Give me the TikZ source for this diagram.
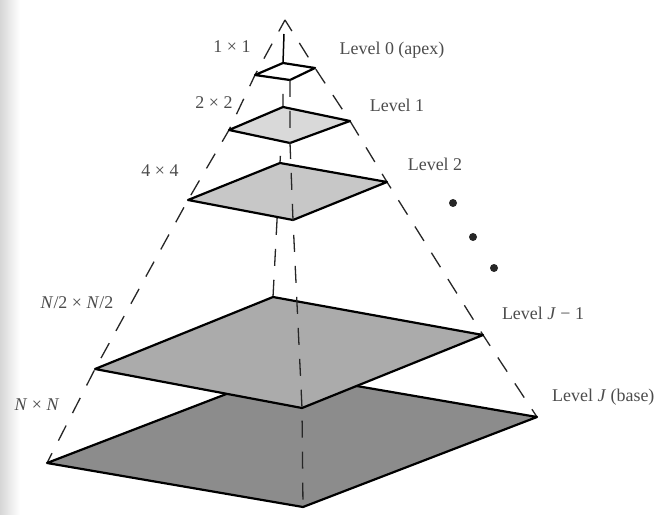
\documentclass[tikz,border=0pt]{standalone}
\usepackage{fontspec}
\setmainfont{Liberation Serif}
\begin{document}
\begin{tikzpicture}[x=1bp,y=-1bp,
  lbl/.style={text=black!70,font=\fontsize{18}{20}\selectfont,inner sep=0pt},
  edge/.style={line width=1.3bp,dash pattern=on 17bp off 14bp,black!85},
  level/.style={draw=black,line width=2.2bp,line join=round},
  dotmark/.style={circle,fill=black!85,inner sep=0pt,minimum size=8bp}]
\useasboundingbox (0,0) rectangle (659,515);
\fill[white] (0,0) rectangle (659,515);
\shade[left color=black!16,right color=white] (0,0) rectangle (20,515);
% vertices
\coordinate (apex) at (285,20);
\coordinate (top) at (284,34);
\coordinate (l0l) at (255,75);  \coordinate (l0t) at (283,63);  \coordinate (l0r) at (315,68);  \coordinate (l0b) at (290,80);
\coordinate (l1l) at (229,130); \coordinate (l1t) at (283,107); \coordinate (l1r) at (350,121); \coordinate (l1b) at (290,143);
\coordinate (l2l) at (188,200); \coordinate (l2t) at (280,163); \coordinate (l2r) at (387,182); \coordinate (l2b) at (293,220);
\coordinate (l3l) at (95,369);  \coordinate (l3t) at (273,297); \coordinate (l3r) at (483,335); \coordinate (l3b) at (302,408);
\coordinate (l4l) at (47,463);  \coordinate (l4t) at (281,373); \coordinate (l4r) at (537,417); \coordinate (l4b) at (303,507);
% hidden/side edges
\draw[edge,dash phase=4bp] (apex) -- (l0l) -- (l1l) -- (l2l) -- (l3l) -- (l4l);
\draw[edge,dash phase=4bp] (apex) -- (l0r) -- (l1r) -- (l2r) -- (l3r) -- (l4r);
\draw[line width=1.5bp] (top) -- (l0t);
\draw[edge] (l0t) -- (l1t) -- (l2t) -- (l3t) -- (l4t);
% levels
\filldraw[level,fill=black!45] (l4l) -- (l4t) -- (l4r) -- (l4b) -- cycle;
\filldraw[level,fill=black!33] (l3l) -- (l3t) -- (l3r) -- (l3b) -- cycle;
\filldraw[level,fill=black!22] (l2l) -- (l2t) -- (l2r) -- (l2b) -- cycle;
\filldraw[level,fill=black!15] (l1l) -- (l1t) -- (l1r) -- (l1b) -- cycle;
\filldraw[level,fill=white] (l0l) -- (l0t) -- (l0r) -- (l0b) -- cycle;
% front edge
\draw[edge] (l0b) -- (l1b) -- (l2b) -- (l3b) -- (l4b);
% dots
\node[dotmark] (d1) at (453,203) {};
\node[dotmark] (d2) at (473,237) {};
\node[dotmark] (d3) at (494,268) {};
% labels
\node[lbl] (s0) at (232,47) {1 × 1};
\node[lbl] (t0) at (392,50) {Level 0 (apex)};
\node[lbl] (s1) at (214,103) {2 × 2};
\node[lbl] (t1) at (397,105) {Level 1};
\node[lbl] (s2) at (160,171) {4 × 4};
\node[lbl] (t2) at (435,164) {Level 2};
\node[lbl] (s3) at (77,303) {\textit{N}/2 × \textit{N}/2};
\node[lbl] (t3) at (543,313) {Level \textit{J} − 1};
\node[lbl] (s4) at (37,405) {\textit{N} × \textit{N}};
\node[lbl,anchor=west] (t4) at (552,397) {Level \textit{J} (base)};
\end{tikzpicture}
\end{document}
